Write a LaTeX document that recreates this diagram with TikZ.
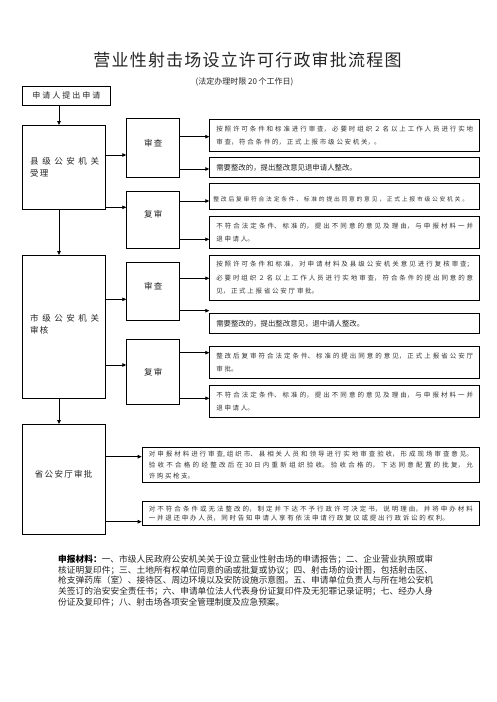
\documentclass[tikz,border=0pt]{standalone}
\usepackage{fontspec}
\setmainfont{Noto Sans CJK SC}
\newfontfamily\titlefont[LetterSpace=7]{Noto Sans CJK SC}
\newfontfamily\lblfont[LetterSpace=15]{Noto Sans CJK SC}
\newfontfamily\widefont[LetterSpace=42]{Noto Sans CJK SC}
\newfontfamily\aplfont[LetterSpace=25]{Noto Sans CJK SC}
\newfontfamily\txtfont[LetterSpace=30]{Noto Sans CJK SC}
\newfontfamily\plainfont{Noto Sans CJK SC}
\usetikzlibrary{arrows.meta}
\XeTeXlinebreaklocale "zh"
\XeTeXlinebreakskip=0pt plus 1pt
\tolerance=10000
\hbadness=10000
\newcommand\liftt[2]{\raisebox{#1}[\height][\depth]{#2}}
\newcommand\txtsetup{\plainfont\fontsize{6.5pt}{13.5pt}\selectfont\XeTeXlinebreakskip=1.75pt plus 1pt\relax}
\newcommand\txtbsetup{\plainfont\fontsize{6.5pt}{11pt}\selectfont\XeTeXlinebreakskip=1.55pt plus 1pt\relax}
\newcommand\txtcsetup{\plainfont\fontsize{6.5pt}{9.5pt}\selectfont\XeTeXlinebreakskip=1.75pt plus 1pt\relax}
\begin{document}
\begin{tikzpicture}[x=1pt,y=-1pt,
  bx/.style={draw=black, line width=0.9pt, inner sep=0pt, anchor=north west},
  lbl/.style={bx, font=\lblfont\fontsize{8.5pt}{12pt}\selectfont, text=black!85},
  txt/.style={bx, font=\txtsetup, text=black!80,
    align=justify, text width=257pt, minimum width=270pt},
  txtb/.style={bx, font=\txtbsetup, text=black!80,
    align=justify, text width=324pt, minimum width=337.6pt},
  pln/.style={bx, font=\plainfont\fontsize{7.4pt}{9pt}\selectfont, text=black!85,
    align=left, text width=257pt, minimum width=270pt},
  arr/.style={line width=0.8pt, -{Triangle[length=4pt,width=3.5pt]}},
]
\useasboundingbox (0,0) rectangle (496,702);
\fill[white] (0,0) rectangle (496,702);

\node[font=\titlefont\fontsize{17pt}{17pt}\selectfont, text=black!85] (title) at (247.5,60) {营业性射击场设立许可行政审批流程图};
\node[font=\plainfont\fontsize{8pt}{8pt}\selectfont, text=black!85] (sub) at (244.5,81.5) {(法定办理时限 20 个工作日)};

% left column
\node[lbl, font=\aplfont\fontsize{8pt}{10pt}\selectfont, minimum width=88.3pt, minimum height=19pt] (a0) at (21.7,86) {申请人提出申请};
\node[lbl, minimum width=83pt, minimum height=84pt] (c1) at (21.7,125) {\hspace*{2pt}\shortstack[l]{{\widefont 县级公安机关}\\[1pt]受理}};
\node[lbl, minimum width=83pt, minimum height=143.3pt] (m1) at (21.7,255) {\liftt{3pt}{\hspace*{2pt}\shortstack[l]{{\widefont 市级公安机关}\\[1pt]审核}}};
\node[lbl, minimum width=83pt, minimum height=110.3pt] (p1) at (21.7,424) {\liftt{5.5pt}{省公安厅审批}};

% middle column
\node[lbl, minimum width=53pt, minimum height=58.4pt] (cs) at (126.3,118.3) {\liftt{5pt}{审查}};
\node[lbl, minimum width=53pt, minimum height=57.6pt] (cf) at (126.3,190.7) {\liftt{6pt}{复审}};
\node[lbl, minimum width=53pt, minimum height=58.3pt] (ms) at (126.3,261.7) {\liftt{5.5pt}{审查}};
\node[lbl, minimum width=53pt, minimum height=64.7pt] (mf) at (126.3,339.3) {复审};

% right column
\node[txt, minimum height=32pt] (b1) at (209.3,119) {按照许可条件和标准进行审查，必要时组织２名以上工作人员进行实地\linebreak 审查，符合条件的，正式上报市级公安机关，。};
\node[pln, minimum height=20pt] (b2) at (209.3,157) {需要整改的，提出整改意见退申请人整改。};
\node[bx, font=\txtfont\fontsize{5.8pt}{10pt}\selectfont, text=black!80, minimum width=270pt, minimum height=26pt] (b3) at (209.3,183.3) {\liftt{-3pt}{整改后复审符合法定条件、标准的提出同意的意见，正式上报市级公安机关。}\hspace*{8pt}};
\node[txt, minimum height=32.3pt] (b4) at (209.3,216) {不符合法定条件、标准的，提出不同意的意见及理由，与申报材料一并\linebreak 退申请人。};
\node[txt, minimum height=45pt] (b5) at (209.3,255) {按照许可条件和标准，对申请材料及县级公安机关意见进行复核审查；\linebreak 必要时组织２名以上工作人员进行实地审查，符合条件的提出同意的意\linebreak 见，正式上报省公安厅审批。};
\node[pln, minimum height=20.3pt] (b6) at (209.3,313) {需要整改的，提出整改意见，退中请人整改。};
\node[txt, minimum height=32.3pt] (b7) at (209.3,346) {整改后复审符合法定条件、标准的提出同意的意见，正式上报省公安厅\linebreak 审批。};
\node[txt, minimum height=32.3pt] (b8) at (209.3,385) {不符合法定条件、标准的，提出不同意的意见及理由，与申报材料一并\linebreak 退申请人。};
\node[txtb, minimum height=35.6pt] (b9) at (141.7,446.7) {对申报材料进行审查,组织市、县相关人员和领导进行实地审查验收，形成现场审查意见。\linebreak 验收不合格的经整改后在 30 日内重新组织验收。验收合格的，下达同意配置的批复，允\linebreak 许购买枪支。};
\node[txtb, font=\txtcsetup, minimum height=24pt] (b10) at (141.7,501) {对不符合条件或无法整改的，制定并下达不予行政许可决定书，说明理由，并将申办材料\linebreak 一并退还申办人员，同时告知申请人享有依法申请行政复议或提出行政诉讼的权利。};

% materials
\node[anchor=north west, inner sep=0pt, text width=375pt, align=justify,
  font=\plainfont\fontsize{8.7pt}{10.9pt}\selectfont, text=black!85] (mat) at (58,554.5)
  {\textbf{\color{black}申报材料：}一、市级人民政府公安机关关于设立营业性射击场的申请报告；二、企业营业执照或审\linebreak 核证明复印件；三、土地所有权单位同意的函或批复或协议；四、射击场的设计图，包括射击区、\linebreak 枪支弹药库（室）、接待区、周边环境以及安防设施示意图。五、申请单位负责人与所在地公安机\linebreak 关签订的治安安全责任书；六、申请单位法人代表身份证复印件及无犯罪记录证明；七、经办人身\linebreak 份证及复印件；八、射击场各项安全管理制度及应急预案。};

% vertical connectors
\draw[arr] (59,0 |- a0.south) -- (59,0 |- c1.north);
\draw[arr] (59,0 |- c1.south) -- (59,0 |- m1.north);
\draw[arr] (59,0 |- m1.south) -- (59,0 |- p1.north);

% left to middle
\draw[arr] (c1.east |- 0,155) -- (cs.west |- 0,155);
\draw[arr] (c1.east |- 0,207.3) -- (cf.west |- 0,207.3);
\draw[arr] (m1.east |- 0,299.3) -- (ms.west |- 0,299.3);
\draw[arr] (m1.east |- 0,365) -- (mf.west |- 0,365);

% middle to right
\draw[arr] (cs.east |- 0,136.7) -- (b1.west |- 0,136.7);
\draw[arr] (cs.east |- 0,169) -- (b2.west |- 0,169);
\draw[arr] (cf.east |- 0,201) -- (b3.west |- 0,201);
\draw[arr] (cf.east |- 0,239.3) -- (b4.west |- 0,239.3);
\draw[arr] (ms.east |- 0,278.3) -- (b5.west |- 0,278.3);
\draw[arr] (ms.east |- 0,310.7) -- (b6.west |- 0,310.7);
\draw[arr] (mf.east |- 0,352.7) -- (b7.west |- 0,352.7);
\draw[arr] (mf.east |- 0,398.3) -- (b8.west |- 0,398.3);
\draw[arr] (p1.east |- 0,456.7) -- (b9.west |- 0,456.7);
\draw[arr] (p1.east |- 0,521.7) -- (b10.west |- 0,521.7);
\end{tikzpicture}
\end{document}
